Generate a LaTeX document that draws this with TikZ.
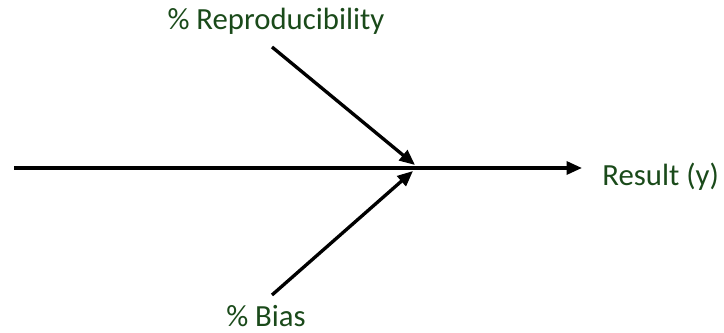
\documentclass[tikz,border=0pt]{standalone}
\usepackage{fontspec}
\setmainfont{Carlito}
\usetikzlibrary{arrows.meta, positioning}
\definecolor{labelgreen}{HTML}{1A4A1A}
\tikzset{
  % labels
  factor/.style = {font=\fontsize{17.5}{20}\selectfont, text=labelgreen, inner sep=0pt},
  % arrows
  flow/.style   = {-{Triangle[length=0.31cm, width=0.26cm]}, line width=1.9pt},
}

\begin{document}
\begin{tikzpicture}[x=0.02cm, y=-0.02cm]
\useasboundingbox (0,0) rectangle (724,333);

% ---------- Points ----------
\coordinate (start) at (14,168);
\coordinate (tip)   at (582,168);
\coordinate (rhit)  at (415,165);
\coordinate (bhit)  at (413,171);
\coordinate (rtail) at (272,47);
\coordinate (btail) at (272,295);

% ---------- Labels ----------
\node[factor] (repro)  at (276,21)  {\% Reproducibility};
\node[factor] (bias)   at (266,316) {\% Bias};
\node[factor, anchor=west] (result) at (602,177) {Result (y)};

% ---------- Flow ----------
\draw[flow] (start) -- (tip);
\draw[flow] (rtail) -- (rhit);
\draw[flow] (btail) -- (bhit);

\end{tikzpicture}
\end{document}
